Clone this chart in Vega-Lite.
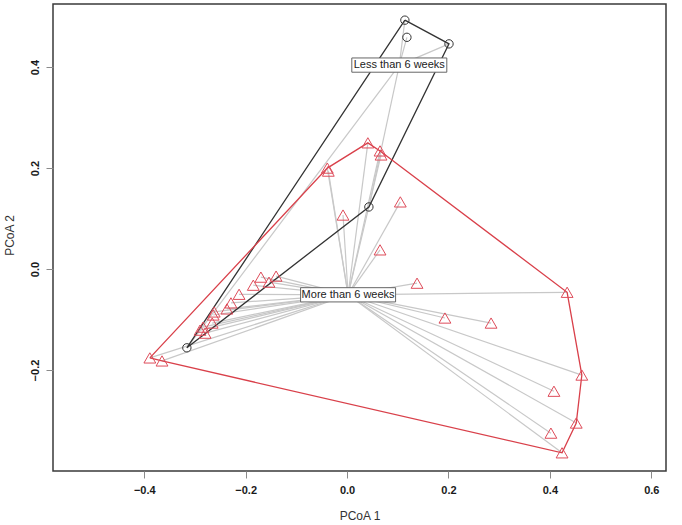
{
  "$schema": "https://vega.github.io/schema/vega-lite/v6.json",
  "width": 613,
  "height": 467,
  "autosize": {"type": "none"},
  "padding": {"left": 53, "top": 4, "right": 16, "bottom": 54},
  "background": "white",
  "config": {
    "view": {"stroke": "#3a3a3a", "strokeWidth": 1.5},
    "font": "Liberation Sans",
    "axis": {
      "domain": false,
      "grid": false,
      "tickColor": "#8a8a8a",
      "tickSize": 7,
      "labelFont": "Liberation Sans",
      "labelFontWeight": "bold",
      "labelFontSize": 11,
      "labelColor": "#1a1a1a",
      "titleFont": "Liberation Sans",
      "titleFontWeight": "normal",
      "titleFontSize": 12,
      "titleColor": "#333333"
    }
  },
  "datasets": {
    "points": [
      {"group": "Less than 6 weeks", "x": 0.114, "y": 0.493},
      {"group": "Less than 6 weeks", "x": 0.118, "y": 0.459},
      {"group": "Less than 6 weeks", "x": 0.201, "y": 0.446},
      {"group": "Less than 6 weeks", "x": 0.043, "y": 0.123},
      {"group": "Less than 6 weeks", "x": -0.316, "y": -0.156},
      {"group": "More than 6 weeks", "x": 0.041, "y": 0.250},
      {"group": "More than 6 weeks", "x": 0.065, "y": 0.234},
      {"group": "More than 6 weeks", "x": 0.067, "y": 0.226},
      {"group": "More than 6 weeks", "x": -0.039, "y": 0.200},
      {"group": "More than 6 weeks", "x": -0.037, "y": 0.194},
      {"group": "More than 6 weeks", "x": -0.008, "y": 0.107},
      {"group": "More than 6 weeks", "x": 0.105, "y": 0.133},
      {"group": "More than 6 weeks", "x": 0.065, "y": 0.038},
      {"group": "More than 6 weeks", "x": 0.138, "y": -0.028},
      {"group": "More than 6 weeks", "x": 0.193, "y": -0.097},
      {"group": "More than 6 weeks", "x": 0.284, "y": -0.107},
      {"group": "More than 6 weeks", "x": 0.434, "y": -0.046},
      {"group": "More than 6 weeks", "x": 0.463, "y": -0.210},
      {"group": "More than 6 weeks", "x": 0.408, "y": -0.242},
      {"group": "More than 6 weeks", "x": 0.452, "y": -0.305},
      {"group": "More than 6 weeks", "x": 0.402, "y": -0.325},
      {"group": "More than 6 weeks", "x": 0.424, "y": -0.364},
      {"group": "More than 6 weeks", "x": -0.389, "y": -0.176},
      {"group": "More than 6 weeks", "x": -0.365, "y": -0.182},
      {"group": "More than 6 weeks", "x": -0.170, "y": -0.016},
      {"group": "More than 6 weeks", "x": -0.140, "y": -0.014},
      {"group": "More than 6 weeks", "x": -0.154, "y": -0.026},
      {"group": "More than 6 weeks", "x": -0.185, "y": -0.032},
      {"group": "More than 6 weeks", "x": -0.213, "y": -0.050},
      {"group": "More than 6 weeks", "x": -0.229, "y": -0.067},
      {"group": "More than 6 weeks", "x": -0.237, "y": -0.079},
      {"group": "More than 6 weeks", "x": -0.264, "y": -0.091},
      {"group": "More than 6 weeks", "x": -0.262, "y": -0.085},
      {"group": "More than 6 weeks", "x": -0.266, "y": -0.107},
      {"group": "More than 6 weeks", "x": -0.290, "y": -0.121},
      {"group": "More than 6 weeks", "x": -0.284, "y": -0.115},
      {"group": "More than 6 weeks", "x": -0.280, "y": -0.127}
    ],
    "hulls": [
      {"group": "Less than 6 weeks", "i": 1, "x": 0.114, "y": 0.493},
      {"group": "Less than 6 weeks", "i": 2, "x": 0.201, "y": 0.446},
      {"group": "Less than 6 weeks", "i": 3, "x": 0.043, "y": 0.123},
      {"group": "Less than 6 weeks", "i": 4, "x": -0.316, "y": -0.156},
      {"group": "Less than 6 weeks", "i": 5, "x": 0.114, "y": 0.493},
      {"group": "More than 6 weeks", "i": 1, "x": -0.389, "y": -0.176},
      {"group": "More than 6 weeks", "i": 2, "x": -0.039, "y": 0.200},
      {"group": "More than 6 weeks", "i": 3, "x": 0.041, "y": 0.250},
      {"group": "More than 6 weeks", "i": 4, "x": 0.065, "y": 0.234},
      {"group": "More than 6 weeks", "i": 5, "x": 0.434, "y": -0.046},
      {"group": "More than 6 weeks", "i": 6, "x": 0.463, "y": -0.210},
      {"group": "More than 6 weeks", "i": 7, "x": 0.452, "y": -0.305},
      {"group": "More than 6 weeks", "i": 8, "x": 0.424, "y": -0.364},
      {"group": "More than 6 weeks", "i": 9, "x": -0.365, "y": -0.182},
      {"group": "More than 6 weeks", "i": 10, "x": -0.389, "y": -0.176}
    ],
    "centroids": [
      {"group": "Less than 6 weeks", "cx": 0.103, "cy": 0.404},
      {"group": "More than 6 weeks", "cx": 0.002, "cy": -0.051}
    ]
  },
  "layer": [
    {
      "data": {"name": "points"},
      "transform": [
        {"lookup": "group", "from": {"data": {"name": "centroids"}, "key": "group", "fields": ["cx", "cy"]}}
      ],
      "mark": {"type": "rule", "color": "#c8c8c8", "strokeWidth": 1.2},
      "encoding": {
        "x": {"field": "x", "type": "quantitative", "scale": {"domain": [-0.58, 0.629], "nice": false, "zero": false},
              "axis": {"values": [-0.4, -0.2, 0, 0.2, 0.4, 0.6], "format": ".1f", "labelPadding": 6, "title": "PCoA 1", "titleY": 48, "titleBaseline": "alphabetic"}},
        "y": {"field": "y", "type": "quantitative", "scale": {"domain": [-0.4, 0.525], "nice": false, "zero": false},
              "axis": {"values": [-0.2, 0, 0.2, 0.4], "format": ".1f", "labelAngle": 270, "labelPadding": 6, "title": "PCoA 2", "titleAngle": 270, "titleX": -40, "titleY": 231, "titleAlign": "center", "titleBaseline": "alphabetic"}},
        "x2": {"field": "cx"},
        "y2": {"field": "cy"}
      }
    },
    {
      "data": {"name": "hulls"},
      "mark": {"type": "line", "strokeWidth": 1.3},
      "encoding": {
        "x": {"field": "x", "type": "quantitative", "scale": {"domain": [-0.58, 0.629], "nice": false, "zero": false}},
        "y": {"field": "y", "type": "quantitative", "scale": {"domain": [-0.4, 0.525], "nice": false, "zero": false}},
        "order": {"field": "i", "type": "quantitative"},
        "detail": {"field": "group"},
        "color": {"field": "group", "type": "nominal", "scale": {"domain": ["Less than 6 weeks", "More than 6 weeks"], "range": ["#333333", "#D9404A"]}, "legend": null}
      }
    },
    {
      "data": {"name": "points"},
      "transform": [{"filter": "datum.group === 'More than 6 weeks'"}],
      "mark": {"type": "point", "shape": "triangle-up", "filled": false, "size": 140, "strokeWidth": 1, "color": "#DE4C5A", "opacity": 1},
      "encoding": {
        "x": {"field": "x", "type": "quantitative", "scale": {"domain": [-0.58, 0.629], "nice": false, "zero": false}},
        "y": {"field": "y", "type": "quantitative", "scale": {"domain": [-0.4, 0.525], "nice": false, "zero": false}}
      }
    },
    {
      "data": {"name": "points"},
      "transform": [{"filter": "datum.group === 'Less than 6 weeks'"}],
      "mark": {"type": "point", "shape": "circle", "filled": false, "size": 70, "strokeWidth": 1, "color": "#333333", "opacity": 1},
      "encoding": {
        "x": {"field": "x", "type": "quantitative", "scale": {"domain": [-0.58, 0.629], "nice": false, "zero": false}},
        "y": {"field": "y", "type": "quantitative", "scale": {"domain": [-0.4, 0.525], "nice": false, "zero": false}}
      }
    },
    {
      "data": {"name": "centroids"},
      "mark": {"type": "point", "shape": "M-1,-0.15L1,-0.15L1,0.15L-1,0.15Z", "filled": true, "fill": "white", "stroke": "#666666", "strokeWidth": 1, "size": 9025, "opacity": 1},
      "encoding": {
        "x": {"field": "cx", "type": "quantitative", "scale": {"domain": [-0.58, 0.629], "nice": false, "zero": false}},
        "y": {"field": "cy", "type": "quantitative", "scale": {"domain": [-0.4, 0.525], "nice": false, "zero": false}}
      }
    },
    {
      "data": {"name": "centroids"},
      "mark": {"type": "text", "fontSize": 11, "font": "Liberation Sans", "color": "#222222", "align": "center", "baseline": "middle"},
      "encoding": {
        "x": {"field": "cx", "type": "quantitative", "scale": {"domain": [-0.58, 0.629], "nice": false, "zero": false}},
        "y": {"field": "cy", "type": "quantitative", "scale": {"domain": [-0.4, 0.525], "nice": false, "zero": false}},
        "text": {"field": "group"}
      }
    }
  ]
}
